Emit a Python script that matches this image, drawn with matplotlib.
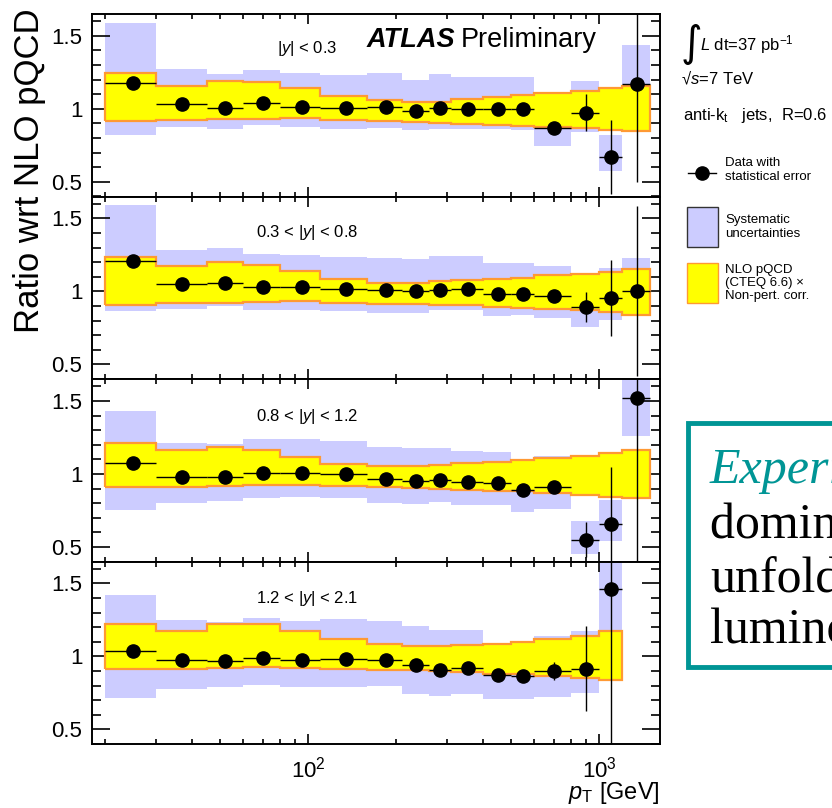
import numpy as np
import matplotlib
matplotlib.use("Agg")
import matplotlib.pyplot as plt
from matplotlib.patches import Rectangle
from matplotlib.lines import Line2D
from matplotlib.ticker import FixedLocator, MultipleLocator, LogLocator, NullFormatter, FuncFormatter

plt.rcParams['font.family'] = ['Liberation Sans', 'DejaVu Sans']
plt.rcParams['mathtext.fontset'] = 'custom'
plt.rcParams['mathtext.rm'] = 'Liberation Sans'
plt.rcParams['mathtext.it'] = 'Liberation Sans:italic'
plt.rcParams['mathtext.bf'] = 'Liberation Sans:bold'
plt.rcParams['mathtext.default'] = 'regular'

# pT bins (GeV) and data points
bin_edges = [20, 30, 45, 60, 80, 110, 160, 210, 260, 310, 400, 500, 600, 800, 1000, 1200, 1500]
pt_points = [25, 37, 52, 70, 95, 135, 185, 235, 285, 355, 450, 550, 700, 900, 1100, 1350]

rap_labels = [r'|$\mathit{y}$| < 0.3', r'0.3 < |$\mathit{y}$| < 0.8',
              r'0.8 < |$\mathit{y}$| < 1.2', r'1.2 < |$\mathit{y}$| < 2.1']

# |y| < 0.3
ratio_0 = [1.175, 1.034, 1.005, 1.037, 1.016, 1.005, 1.014, 0.988, 1.007, 0.996, 1.0, 0.996, 0.868, 0.975, 0.67, 1.168]
stat_0 = [0.01, 0.008, 0.008, 0.008, 0.008, 0.008, 0.01, 0.01, 0.012, 0.015, 0.02, 0.025, 0.03, 0.125, 0.255, 0.67]
theo_up_0 = [1.243, 1.16, 1.19, 1.184, 1.146, 1.091, 1.064, 1.048, 1.05, 1.065, 1.08, 1.095, 1.11, 1.125, 1.14, 1.16]
theo_dn_0 = [0.914, 0.925, 0.928, 0.932, 0.935, 0.925, 0.92, 0.912, 0.905, 0.898, 0.892, 0.886, 0.878, 0.87, 0.858, 0.846]
sys_up_0 = [1.586, 1.27, 1.24, 1.268, 1.245, 1.232, 1.243, 1.2, 1.24, 1.216, 1.216, 1.216, 0.977, 1.193, 0.818, 1.436]
sys_dn_0 = [0.823, 0.875, 0.864, 0.89, 0.875, 0.864, 0.87, 0.853, 0.86, 0.86, 0.86, 0.855, 0.746, 0.84, 0.573, 0.91]

# 0.3 < |y| < 0.8
ratio_1 = [1.207, 1.048, 1.059, 1.03, 1.03, 1.014, 1.007, 1.0, 1.011, 1.014, 0.98, 0.984, 0.968, 0.893, 0.954, 1.002]
stat_1 = [0.01, 0.008, 0.008, 0.008, 0.008, 0.008, 0.01, 0.01, 0.012, 0.015, 0.02, 0.025, 0.03, 0.1, 0.26, 0.58]
theo_up_1 = [1.239, 1.172, 1.2, 1.184, 1.138, 1.082, 1.059, 1.055, 1.068, 1.075, 1.082, 1.09, 1.109, 1.12, 1.136, 1.154]
theo_dn_1 = [0.905, 0.918, 0.92, 0.927, 0.932, 0.92, 0.915, 0.912, 0.91, 0.905, 0.894, 0.887, 0.88, 0.875, 0.859, 0.84]
sys_up_1 = [1.593, 1.286, 1.295, 1.256, 1.252, 1.234, 1.227, 1.225, 1.24, 1.24, 1.193, 1.195, 1.177, 1.05, 1.159, 1.229]
sys_dn_1 = [0.866, 0.882, 0.898, 0.87, 0.87, 0.864, 0.854, 0.85, 0.87, 0.87, 0.832, 0.836, 0.82, 0.757, 0.807, 0.85]

# 0.8 < |y| < 1.2
ratio_2 = [1.072, 0.977, 0.982, 1.004, 1.004, 0.998, 0.963, 0.954, 0.959, 0.943, 0.936, 0.891, 0.907, 0.55, 0.657, 1.522]
stat_2 = [0.01, 0.008, 0.008, 0.008, 0.008, 0.008, 0.01, 0.01, 0.012, 0.015, 0.02, 0.025, 0.03, 0.12, 0.39, 1.15]
theo_up_2 = [1.213, 1.163, 1.181, 1.163, 1.118, 1.066, 1.054, 1.055, 1.061, 1.072, 1.084, 1.095, 1.111, 1.125, 1.145, 1.163]
theo_dn_2 = [0.907, 0.913, 0.918, 0.925, 0.925, 0.918, 0.907, 0.902, 0.898, 0.891, 0.884, 0.88, 0.868, 0.857, 0.845, 0.834]
sys_up_2 = [1.43, 1.213, 1.202, 1.236, 1.236, 1.225, 1.181, 1.175, 1.18, 1.16, 1.147, 1.05, 1.125, 0.68, 0.823, 1.75]
sys_dn_2 = [0.755, 0.8, 0.816, 0.834, 0.84, 0.832, 0.8, 0.795, 0.81, 0.784, 0.784, 0.738, 0.759, 0.452, 0.543, 1.259]

# 1.2 < |y| < 2.1 (no last bin)
ratio_3 = [1.036, 0.973, 0.968, 0.991, 0.973, 0.984, 0.973, 0.939, 0.905, 0.923, 0.875, 0.868, 0.9, 0.916, 1.461]
stat_3 = [0.01, 0.008, 0.008, 0.008, 0.008, 0.008, 0.01, 0.012, 0.015, 0.018, 0.02, 0.025, 0.065, 0.29, 1.1]
theo_up_3 = [1.223, 1.177, 1.223, 1.223, 1.177, 1.12, 1.082, 1.07, 1.07, 1.08, 1.086, 1.098, 1.12, 1.143, 1.177]
theo_dn_3 = [0.911, 0.916, 0.923, 0.93, 0.923, 0.916, 0.909, 0.905, 0.9, 0.893, 0.882, 0.877, 0.868, 0.855, 0.841]
sys_up_3 = [1.42, 1.25, 1.234, 1.264, 1.24, 1.257, 1.24, 1.21, 1.18, 1.18, 1.06, 1.05, 1.14, 1.177, 1.75]
sys_dn_3 = [0.716, 0.78, 0.79, 0.802, 0.79, 0.79, 0.795, 0.745, 0.73, 0.74, 0.707, 0.707, 0.72, 0.75, 1.1]

panels = [
    (ratio_0, stat_0, theo_up_0, theo_dn_0, sys_up_0, sys_dn_0),
    (ratio_1, stat_1, theo_up_1, theo_dn_1, sys_up_1, sys_dn_1),
    (ratio_2, stat_2, theo_up_2, theo_dn_2, sys_up_2, sys_dn_2),
    (ratio_3, stat_3, theo_up_3, theo_dn_3, sys_up_3, sys_dn_3),
]

W, H = 832, 808
def fx(px):
    return px / W
def fy(py):
    return 1 - py / H

SYS_COLOR = '#ccccff'
YELLOW = '#ffff00'
ORANGE = '#ff9933'
TEAL = '#009595'

fig = plt.figure(figsize=(W / 100, H / 100), dpi=100)
axes = fig.subplots(4, 1, sharex=True, gridspec_kw=dict(hspace=0))
fig.subplots_adjust(left=fx(92), right=fx(660), top=fy(14), bottom=fy(744))

edges = np.array(bin_edges, dtype=float)
for i, (ax, (ratio, stat, tup, tdn, sup, sdn)) in enumerate(zip(axes, panels)):
    n = len(ratio)
    lo = edges[:n]
    hi = edges[1:n + 1]
    x = np.array(pt_points[:n], dtype=float)
    sup = np.array(sup); sdn = np.array(sdn)

    # systematic uncertainty boxes
    ax.bar(lo, sup - sdn, width=hi - lo, bottom=sdn, align='edge',
           color=SYS_COLOR, linewidth=0, zorder=1)
    # NLO theory band
    ax.stairs(tup, edges[:n + 1], baseline=tdn, fill=True, facecolor=YELLOW,
              edgecolor=ORANGE, linewidth=1.6, zorder=2)
    # data
    ax.errorbar(x, ratio, yerr=stat, xerr=[x - lo, hi - x], fmt='o', color='black',
                ms=9.5, elinewidth=1.0, capsize=0, zorder=5)

    ax.set_xscale('log')
    ax.set_xlim(18.1, 1620)
    ax.set_ylim(0.4, 1.65)
    ax.yaxis.set_major_locator(FixedLocator([0.5, 1.0, 1.5]))
    ax.yaxis.set_minor_locator(MultipleLocator(0.1))
    ax.yaxis.set_major_formatter(FuncFormatter(lambda v, p: '%g' % v))
    ax.xaxis.set_major_locator(LogLocator(base=10))
    ax.xaxis.set_minor_locator(LogLocator(base=10, subs=np.arange(2, 10)))
    ax.xaxis.set_minor_formatter(NullFormatter())
    ax.xaxis.set_major_formatter(FuncFormatter(lambda v, p: r'$10^{%d}$' % round(np.log10(v))))
    ax.tick_params(axis='both', which='both', direction='in', top=True, right=True, width=1.2)
    ax.tick_params(axis='y', which='major', length=13, labelsize=16, pad=7)
    ax.tick_params(axis='y', which='minor', length=6.5)
    ax.tick_params(axis='x', which='major', length=7, labelsize=16, pad=9)
    ax.tick_params(axis='x', which='minor', length=3.8)
    for s in ax.spines.values():
        s.set_linewidth(1.4)

# rapidity labels at their pixel places
for lab, py in zip(rap_labels, [49, 233, 416, 599]):
    fig.text(fx(307), fy(py), lab, fontsize=12, ha='center', va='center')

fig.text(fx(30), fy(8), 'Ratio wrt NLO pQCD', rotation=90, ha='center', va='top', fontsize=25)
fig.text(fx(660), fy(806), r'$\mathit{p}_{\mathrm{T}}$ [GeV]', ha='right', va='bottom', fontsize=17)

fig.text(fx(367), fy(47), 'ATLAS', fontsize=19.5, fontweight='bold', fontstyle='italic', va='baseline')
fig.text(fx(461), fy(47), 'Preliminary', fontsize=19.5, va='baseline')

# right-hand annotations
fig.text(fx(681), fy(44), '\u222b', fontsize=30, ha='left', va='center', family=['DejaVu Sans'])
fig.text(fx(700), fy(50), r'$\mathit{L}$ dt=37 pb$^{-1}$', fontsize=12, va='baseline')
fig.text(fx(681), fy(84), '\u221a' + r'$\mathit{s}$=7 TeV', fontsize=12, va='baseline')
fig.text(fx(683), fy(120), r'anti-k$_{t}$   jets,  R=0.6', fontsize=12, va='baseline')

fig.add_artist(Line2D([fx(688), fx(716)], [fy(173), fy(173)], color='black', lw=1.0,
                      transform=fig.transFigure))
fig.add_artist(Line2D([fx(702)], [fy(173)], color='black', marker='o', ms=9.5,
                      transform=fig.transFigure))
fig.text(fx(725), fy(170), 'Data with\nstatistical error', fontsize=9.5, va='center', linespacing=1.15)

fig.add_artist(Rectangle((fx(687), fy(247)), fx(31), (247 - 207) / H, transform=fig.transFigure,
                         facecolor=SYS_COLOR, edgecolor='#333333', lw=1.0))
fig.text(fx(725), fy(227), 'Systematic\nuncertainties', fontsize=9.5, va='center', linespacing=1.15)

fig.add_artist(Rectangle((fx(687), fy(303)), fx(31), (303 - 263) / H, transform=fig.transFigure,
                         facecolor=YELLOW, edgecolor=ORANGE, lw=1.0))
fig.text(fx(725), fy(283), 'NLO pQCD\n(CTEQ 6.6) \u00d7\nNon-pert. corr.', fontsize=9.5,
         va='center', linespacing=1.1)

# slide callout box (cut by the right edge, as in the slide)
fig.add_artist(Rectangle((fx(688), fy(667)), 0.3, (667 - 423) / H, transform=fig.transFigure,
                         facecolor='white', edgecolor=TEAL, lw=3.5, zorder=10))
serif = ['Liberation Serif', 'DejaVu Serif']
fig.text(fx(710), fy(483), 'Experimental uncertainties', family=serif, style='italic',
         color=TEAL, fontsize=36, va='baseline', zorder=11)
fig.text(fx(710), fy(538), 'dominated by jet energy scale,', family=serif,
         fontsize=36, va='baseline', zorder=11)
fig.text(fx(710), fy(592), 'unfolding,', family=serif, fontsize=36, va='baseline', zorder=11)
fig.text(fx(710), fy(643), 'luminosity', family=serif, fontsize=36, va='baseline', zorder=11)

fig.savefig('out.png', dpi=100)
